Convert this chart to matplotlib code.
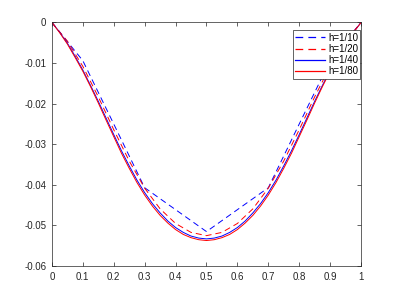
import matplotlib
matplotlib.use('Agg')
import matplotlib.pyplot as plt
from matplotlib.ticker import FormatStrFormatter

plt.rcParams['font.family'] = ['Liberation Sans', 'DejaVu Sans']
plt.rcParams['axes.unicode_minus'] = False

# h = 1/10 grid
x10 = [0, 0.1, 0.2, 0.3, 0.4, 0.5, 0.6, 0.7, 0.8, 0.9, 1.0]
u10 = [0, -0.0094, -0.0250, -0.0407, -0.0461, -0.0515,
       -0.0461, -0.0407, -0.0250, -0.0094, 0]

# h = 1/20 grid
x20 = [0, 0.05, 0.1, 0.15, 0.2, 0.25, 0.3, 0.35, 0.4, 0.45, 0.5,
       0.55, 0.6, 0.65, 0.7, 0.75, 0.8, 0.85, 0.9, 0.95, 1.0]
u20 = [0, -0.0046, -0.0108, -0.0183, -0.0264, -0.0341, -0.0408, -0.0459, -0.0495, -0.0517, -0.0525,
       -0.0517, -0.0495, -0.0459, -0.0408, -0.0341, -0.0264, -0.0183, -0.0108, -0.0046, 0]

# h = 1/40 and 1/80, read at steps of 0.025
x40 = [0, 0.025, 0.05, 0.075, 0.1, 0.125, 0.15, 0.175, 0.2, 0.225, 0.25,
       0.275, 0.3, 0.325, 0.35, 0.375, 0.4, 0.425, 0.45, 0.475, 0.5,
       0.525, 0.55, 0.575, 0.6, 0.625, 0.65, 0.675, 0.7, 0.725, 0.75,
       0.775, 0.8, 0.825, 0.85, 0.875, 0.9, 0.925, 0.95, 0.975, 1.0]
u40 = [0, -0.0024, -0.0051, -0.0083, -0.0117, -0.0155, -0.0194, -0.0235, -0.0276, -0.0316, -0.0353,
       -0.0388, -0.0419, -0.0446, -0.0469, -0.0489, -0.0505, -0.0517, -0.0526, -0.0531, -0.0533,
       -0.0531, -0.0526, -0.0517, -0.0505, -0.0489, -0.0469, -0.0446, -0.0419, -0.0388, -0.0353,
       -0.0316, -0.0276, -0.0235, -0.0194, -0.0155, -0.0117, -0.0083, -0.0051, -0.0024, 0]
u80 = [0, -0.0025, -0.0053, -0.0086, -0.0120, -0.0158, -0.0198, -0.0240, -0.0281, -0.0322, -0.0359,
       -0.0394, -0.0425, -0.0452, -0.0475, -0.0494, -0.0510, -0.0522, -0.0530, -0.0535, -0.0537,
       -0.0535, -0.0530, -0.0522, -0.0510, -0.0494, -0.0475, -0.0452, -0.0425, -0.0394, -0.0359,
       -0.0322, -0.0281, -0.0240, -0.0198, -0.0158, -0.0120, -0.0086, -0.0053, -0.0025, 0]

fig = plt.figure(figsize=(3.99, 2.99), dpi=100)
ax = fig.add_axes([0.13, 0.11, 0.775, 0.815])

lw = 0.7
dash = (0, (6.2, 4.1))
ax.plot(x10, u10, color='b', lw=lw, linestyle=dash, label='h=1/10')
ax.plot(x20, u20, color='r', lw=lw, linestyle=dash, label='h=1/20')
ax.plot(x40, u40, color='b', lw=lw, label='h=1/40')
ax.plot(x40, u80, color='r', lw=lw, label='h=1/80')

ax.set_xlim(0, 1)
ax.set_ylim(-0.06, 0)
ax.set_xticks([i / 10 for i in range(11)])
ax.set_yticks([-0.06, -0.05, -0.04, -0.03, -0.02, -0.01, 0])
ax.xaxis.set_major_formatter(FormatStrFormatter('%g'))
ax.yaxis.set_major_formatter(FormatStrFormatter('%g'))
ax.tick_params(direction='in', top=True, right=True, length=3, width=0.5,
               labelsize=7, colors='0.15', pad=4)
for s in ax.spines.values():
    s.set_linewidth(0.5)
    s.set_color('0.15')

leg = ax.legend(loc='upper right', bbox_to_anchor=(0.998, 0.967), fontsize=7,
                handlelength=3.1, handletextpad=0.3, borderpad=0.25,
                labelspacing=0.12, borderaxespad=0,
                fancybox=False, framealpha=1, edgecolor='0.15')
leg.get_frame().set_linewidth(0.5)
for line in leg.get_lines():
    line.set_linewidth(0.9)

fig.savefig('out.png', dpi=100)
